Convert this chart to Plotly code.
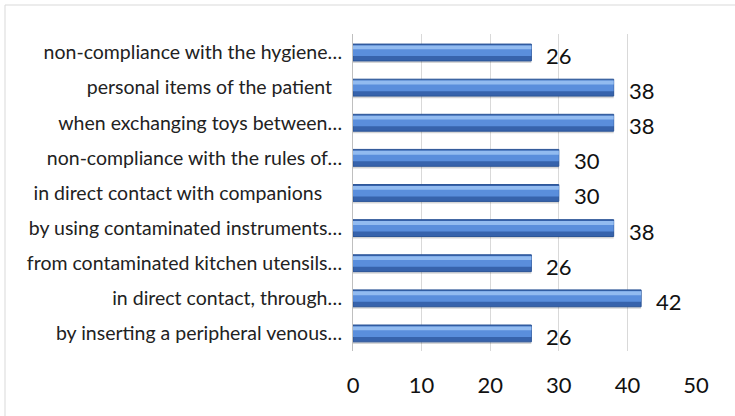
import plotly.graph_objects as go

# Transmission routes, listed top to bottom
categories = [
    "non-compliance with the hygiene\u2026",
    "personal items of the patient\u00a0\u00a0",
    "when exchanging toys between\u2026",
    "non-compliance with the rules of\u2026",
    "in direct contact with companions\u00a0\u00a0\u00a0\u00a0",
    "by using contaminated instruments\u2026",
    "from contaminated kitchen utensils\u2026",
    "in direct contact, through\u2026",
    "by inserting a peripheral venous\u2026",
]
values = [26, 38, 38, 30, 30, 38, 26, 42, 26]
x_ticks = [0, 10, 20, 30, 40, 50]

W, H = 735, 416
ML, MR, MT, MB = 353, 39, 34, 65
PW, PH = W - ML - MR, H - MT - MB

FONT = "Lato"
BAR_W = 0.48
TOP = -BAR_W / 2

fig = go.Figure()

# soft drop shadow under each bar
fig.add_trace(go.Bar(
    x=values, y=categories, orientation="h",
    offset=TOP + 0.06, width=BAR_W,
    marker=dict(color="rgba(0,0,0,0.16)", line=dict(width=0)),
    hoverinfo="skip", showlegend=False,
))
# dark body with outline
fig.add_trace(go.Bar(
    x=values, y=categories, orientation="h",
    offset=TOP, width=BAR_W,
    marker=dict(color="#3763AC", line=dict(color="#2B5496", width=1)),
    showlegend=False,
))
# mid tone
fig.add_trace(go.Bar(
    x=values, y=categories, orientation="h",
    offset=TOP + 0.04, width=0.30,
    marker=dict(color="#5A8EDC", line=dict(width=0)),
    hoverinfo="skip", showlegend=False,
))
# light highlight strip along the top
fig.add_trace(go.Bar(
    x=values, y=categories, orientation="h",
    offset=TOP + 0.04, width=0.11,
    marker=dict(color="#92BBF0", line=dict(width=0)),
    hoverinfo="skip", showlegend=False,
))

for c, v in zip(categories, values):
    fig.add_annotation(
        x=v, y=c, text=str(v), showarrow=False,
        xanchor="left", xshift=13, yshift=-3,
        font=dict(family=FONT, size=22, color="#111111"),
    )

# outer chart frame (top and left edges)
def px_x(p):
    return (p - ML) / PW

def px_y(p):
    return 1 - (p - MT) / PH

frame = dict(color="#D9D9D9", width=1)
fig.add_shape(type="line", xref="paper", yref="paper",
              x0=px_x(5), x1=px_x(W + 5), y0=px_y(5), y1=px_y(5), line=frame)
fig.add_shape(type="line", xref="paper", yref="paper",
              x0=px_x(5), x1=px_x(5), y0=px_y(5), y1=px_y(H + 5), line=frame)

fig.update_layout(
    width=W, height=H,
    margin=dict(l=ML, r=MR, t=MT, b=MB),
    barmode="overlay",
    paper_bgcolor="white", plot_bgcolor="white",
    font=dict(family=FONT, color="#222222"),
    xaxis=dict(
        range=[0, 50], tickvals=x_ticks, ticktext=[str(t) for t in x_ticks],
        showgrid=True, gridcolor="#D9D9D9", gridwidth=1,
        zeroline=False, showline=False, ticks="",
        ticklabelstandoff=19,
        tickfont=dict(family=FONT, size=22, color="#111111"),
    ),
    yaxis=dict(
        categoryorder="array", categoryarray=categories,
        autorange="reversed",
        showline=True, linecolor="#BFBFBF", linewidth=1,
        ticks="", ticklabelstandoff=6,
        tickfont=dict(family=FONT, size=19.5, color="#222222"),
    ),
)

fig.write_html("out.html")
